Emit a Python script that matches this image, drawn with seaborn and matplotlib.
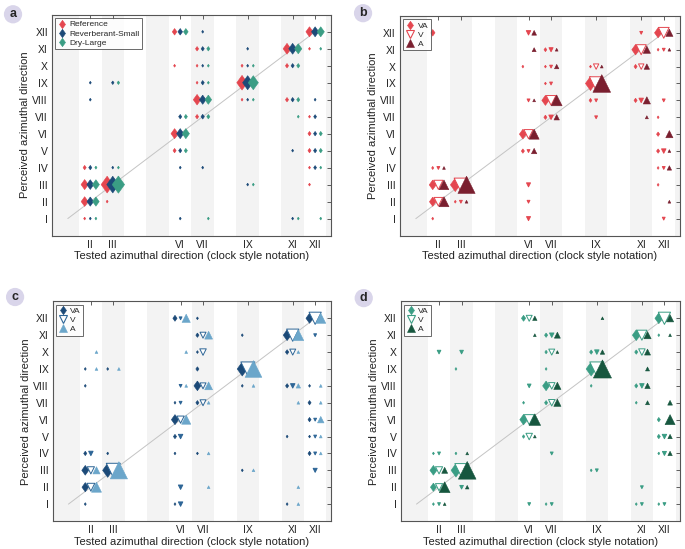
import pandas as pd
import matplotlib
matplotlib.use("Agg")
import matplotlib.pyplot as plt
from matplotlib.lines import Line2D
import seaborn as sns

sns.set_style("white")
plt.rcParams["font.family"] = ["Liberation Sans", "DejaVu Sans"]

# tick labels
roman = ["I", "II", "III", "IV", "V", "VI", "VII", "VIII", "IX", "X", "XI", "XII"]
tested = [2, 3, 6, 7, 9, 11, 12]
tested_labels = ["II", "III", "VI", "VII", "IX", "XI", "XII"]

# data: (tested direction, perceived direction, proportion of responses)
a_reference = [(2, 4, .05), (2, 3, .3), (2, 2, .28), (2, 1, .015),
               (3, 3, .85), (3, 2, .015),
               (6, 12, .12), (6, 10, .015), (6, 6, .3), (6, 5, .05),
               (7, 11, .05), (7, 10, .015), (7, 9, .015), (7, 8, .33), (7, 7, .05),
               (9, 10, .02), (9, 9, .65), (9, 8, .015),
               (11, 11, .35), (11, 10, .05), (11, 8, .05),
               (12, 12, .3), (12, 11, .015), (12, 7, .015), (12, 6, .05), (12, 5, .05),
               (12, 4, .015), (12, 3, .015)]
a_reverb_small = [(2, 9, .015), (2, 8, .015), (2, 4, .05), (2, 3, .28), (2, 2, .25), (2, 1, .015),
                  (3, 9, .03), (3, 4, .015), (3, 3, .85),
                  (6, 12, .12), (6, 7, .05), (6, 6, .3), (6, 5, .05), (6, 4, .015), (6, 1, .015),
                  (7, 12, .015), (7, 11, .05), (7, 10, .015), (7, 9, .05), (7, 8, .25), (7, 7, .06),
                  (7, 4, .015),
                  (9, 11, .015), (9, 10, .015), (9, 9, .6), (9, 8, .015), (9, 3, .015),
                  (11, 11, .35), (11, 10, .05), (11, 8, .05), (11, 5, .015), (11, 1, .015),
                  (12, 12, .3), (12, 8, .015), (12, 7, .04), (12, 6, .05), (12, 5, .05), (12, 4, .04)]
a_dry_large = [(2, 4, .02), (2, 3, .28), (2, 2, .25), (2, 1, .015),
               (3, 9, .03), (3, 4, .015), (3, 3, .9),
               (6, 12, .12), (6, 7, .05), (6, 6, .3), (6, 5, .05),
               (7, 11, .05), (7, 10, .015), (7, 9, .015), (7, 8, .25), (7, 7, .05), (7, 1, .015),
               (9, 10, .015), (9, 9, .6), (9, 8, .015), (9, 3, .015),
               (11, 11, .3), (11, 10, .05), (11, 8, .05), (11, 7, .015), (11, 1, .015),
               (12, 12, .3), (12, 11, .015), (12, 6, .05), (12, 5, .05), (12, 4, .015), (12, 1, .015)]

b_va = [(2, 12, .12), (2, 4, .02), (2, 3, .28), (2, 2, .25), (2, 1, .015),
        (3, 3, .55), (3, 2, .015),
        (6, 10, .015), (6, 6, .28), (6, 5, .05),
        (7, 11, .04), (7, 10, .015), (7, 9, .015), (7, 8, .3), (7, 7, .05),
        (9, 10, .015), (9, 9, .6), (9, 8, .04),
        (11, 11, .33), (11, 10, .05), (11, 8, .05),
        (12, 12, .3), (12, 11, .015), (12, 7, .015), (12, 6, .05), (12, 5, .05),
        (12, 4, .015), (12, 3, .015)]
b_v = [(2, 4, .015), (2, 3, .25), (2, 2, .22),
       (3, 3, .55), (3, 2, .015),
       (6, 12, .05), (6, 8, .015), (6, 6, .25), (6, 5, .015), (6, 3, .04), (6, 2, .015), (6, 1, .04),
       (7, 11, .04), (7, 10, .015), (7, 9, .015), (7, 8, .28), (7, 7, .05),
       (9, 10, .08), (9, 9, .55), (9, 8, .015), (9, 7, .015),
       (11, 12, .015), (11, 11, .3), (11, 10, .08), (11, 8, .05),
       (12, 12, .35), (12, 11, .015), (12, 8, .015), (12, 5, .05), (12, 4, .015), (12, 1, .015)]
b_a = [(2, 4, .015), (2, 3, .28), (2, 2, .3),
       (3, 3, .9), (3, 2, .015),
       (6, 12, .06), (6, 11, .04), (6, 8, .015), (6, 6, .3), (6, 5, .08),
       (7, 11, .015), (7, 10, .05), (7, 8, .35), (7, 7, .08),
       (9, 10, .015), (9, 9, .95),
       (11, 11, .15), (11, 10, .08), (11, 8, .15), (11, 7, .02),
       (12, 12, .15), (12, 11, .015), (12, 6, .15), (12, 5, .015), (12, 4, .05), (12, 2, .015)]

c_va = [(2, 9, .015), (2, 8, .015), (2, 4, .05), (2, 3, .28), (2, 2, .25), (2, 1, .015),
        (3, 9, .015), (3, 4, .015), (3, 3, .6),
        (6, 12, .1), (6, 7, .015), (6, 6, .3), (6, 5, .05), (6, 4, .015), (6, 1, .015),
        (7, 12, .015), (7, 11, .05), (7, 10, .015), (7, 9, .05), (7, 8, .28), (7, 7, .05), (7, 4, .015),
        (9, 11, .015), (9, 9, .6), (9, 8, .015), (9, 3, .015),
        (11, 11, .35), (11, 10, .06), (11, 8, .05), (11, 5, .015), (11, 1, .015),
        (12, 12, .3), (12, 8, .015), (12, 7, .05), (12, 6, .05), (12, 5, .015), (12, 4, .05)]
c_v = [(2, 4, .05), (2, 3, .15), (2, 2, .18),
       (3, 3, .6),
       (6, 12, .015), (6, 8, .015), (6, 7, .015), (6, 6, .15), (6, 5, .05), (6, 2, .05), (6, 1, .05),
       (7, 11, .1), (7, 10, .12), (7, 8, .1), (7, 7, .1),
       (9, 9, .6),
       (11, 11, .45), (11, 10, .1), (11, 8, .05),
       (12, 12, .45), (12, 11, .015), (12, 6, .015), (12, 5, .015), (12, 4, .015), (12, 3, .04)]
c_a = [(2, 10, .015), (2, 9, .015), (2, 3, .15), (2, 2, .3),
       (3, 9, .015), (3, 3, .9),
       (6, 12, .2), (6, 10, .015), (6, 8, .015), (6, 6, .25),
       (7, 11, .18), (7, 8, .18), (7, 7, .015), (7, 4, .015), (7, 2, .015),
       (9, 9, .85), (9, 8, .015), (9, 3, .015),
       (11, 11, .35), (11, 10, .015), (11, 8, .05), (11, 7, .015), (11, 2, .015), (11, 1, .015),
       (12, 12, .3), (12, 8, .015), (12, 7, .015), (12, 6, .12), (12, 5, .015), (12, 4, .015)]

d_va = [(2, 4, .015), (2, 3, .28), (2, 2, .2), (2, 1, .015),
        (3, 9, .015), (3, 4, .015), (3, 3, .55),
        (6, 12, .1), (6, 7, .015), (6, 6, .33), (6, 5, .03),
        (7, 11, .05), (7, 10, .03), (7, 9, .015), (7, 8, .28), (7, 7, .05), (7, 1, .015),
        (9, 10, .05), (9, 9, .6), (9, 8, .015), (9, 3, .015),
        (11, 11, .35), (11, 10, .05), (11, 8, .05), (11, 7, .015), (11, 1, .015),
        (12, 12, .35), (12, 11, .015), (12, 6, .05), (12, 5, .05), (12, 4, .015), (12, 1, .015)]
d_v = [(2, 10, .03), (2, 4, .015), (2, 3, .15), (2, 2, .15), (2, 1, .015),
       (3, 10, .03), (3, 3, .55), (3, 2, .03),
       (6, 12, .1), (6, 8, .03), (6, 6, .3), (6, 5, .12), (6, 1, .015),
       (7, 11, .05), (7, 10, .1), (7, 8, .12), (7, 7, .12), (7, 4, .015), (7, 1, .015),
       (9, 10, .05), (9, 9, .6), (9, 3, .015),
       (11, 11, .3), (11, 10, .12), (11, 8, .05), (11, 2, .015), (11, 1, .015),
       (12, 12, .45), (12, 5, .05), (12, 4, .04), (12, 1, .015)]
d_a = [(2, 3, .1), (2, 2, .35), (2, 1, .015),
       (3, 4, .015), (3, 3, .95), (3, 2, .03),
       (6, 12, .05), (6, 11, .015), (6, 6, .4), (6, 5, .015),
       (7, 11, .1), (7, 10, .015), (7, 8, .15), (7, 7, .15),
       (9, 12, .015), (9, 10, .05), (9, 9, 1.0),
       (11, 11, .15), (11, 10, .1), (11, 9, .04), (11, 8, .08), (11, 7, .04),
       (12, 12, .15), (12, 11, .015), (12, 7, .06), (12, 6, .3), (12, 5, .05), (12, 4, .05)]

# colours
RED, NAVY, TEAL = "#e4464f", "#1c4a78", "#3a9d84"
MAROON, SKY, FOREST = "#7a1f2f", "#6ba6ca", "#17573f"
BAND = "#f3f3f3"

DIAMOND = [(0, 1), (0.72, 0), (0, -1), (-0.72, 0), (0, 1)]
offsets = [-0.25, 0.0, 0.25]

# series: (label, data, marker, colour, open marker)
panels = {
    "a": [("Reference", a_reference, DIAMOND, RED, False),
          ("Reverberant-Small", a_reverb_small, DIAMOND, NAVY, False),
          ("Dry-Large", a_dry_large, DIAMOND, TEAL, False)],
    "b": [("VA", b_va, DIAMOND, RED, False),
          ("V", b_v, "v", RED, True),
          ("A", b_a, "^", MAROON, False)],
    "c": [("VA", c_va, DIAMOND, NAVY, False),
          ("V", c_v, "v", "#2d6596", True),
          ("A", c_a, "^", SKY, False)],
    "d": [("VA", d_va, DIAMOND, TEAL, False),
          ("V", d_v, "v", TEAL, True),
          ("A", d_a, "^", FOREST, False)],
}

fig = plt.figure(figsize=(6.85, 5.49), dpi=100)
axes_pos = {"a": [0.076, 0.571, 0.407, 0.402], "b": [0.584, 0.571, 0.408, 0.400],
            "c": [0.077, 0.051, 0.406, 0.400], "d": [0.585, 0.051, 0.408, 0.400]}
letter_pos = {"a": (0.019, 0.974), "b": (0.530, 0.976), "c": (0.022, 0.459), "d": (0.531, 0.457)}

for key, series in panels.items():
    ax = fig.add_axes(axes_pos[key])
    xlim = (0.3, 12.7)

    # alternating background columns
    for c in range(1, 14, 2):
        ax.axvspan(c - 0.5 if c > 1 else xlim[0] - 1, c + 0.5, color=BAND, lw=0, zorder=0)

    # identity line
    ax.plot([1, len(roman)], [1, len(roman)], color="#c4c4c4", lw=0.7, zorder=1)

    handles = []
    for i, (label, data, marker, col, hollow) in enumerate(series):
        df = pd.DataFrame(data, columns=["tested", "perceived", "p"])
        df["x"] = df["tested"] + offsets[i]
        if hollow:
            # very small open markers just render as dots
            faces = [col if p < 0.06 else "white" for p in df["p"]]
            kw = dict(facecolor=faces, edgecolor=col, linewidth=0.7)
        else:
            kw = dict(edgecolor=col, linewidth=0.4)
        sns.scatterplot(data=df, x="x", y="perceived", size="p", sizes=(1.5, 170),
                        size_norm=(0, 1), marker=marker, color=col, legend=False,
                        ax=ax, zorder=2 + i, **kw)
        handles.append(Line2D([], [], ls="none", marker=marker, markersize=6,
                              markerfacecolor="white" if hollow else col,
                              markeredgecolor=col, markeredgewidth=0.8 if hollow else 0.4,
                              label=label))

    ax.set_xlim(*xlim)
    ax.set_ylim(0, 13)
    ax.set_xticks(tested)
    ax.set_xticklabels(tested_labels)
    ax.set_yticks(range(1, len(roman) + 1))
    ax.set_yticklabels(roman)
    ax.tick_params(direction="in", length=3, width=0.6, top=True, right=True,
                   labelsize=7.5, colors="#444444", labelcolor="#222222", pad=3)
    for sp in ax.spines.values():
        sp.set_color("#555555")
        sp.set_linewidth(0.8)
    ax.set_xlabel("Tested azimuthal direction (clock style notation)", fontsize=8,
                  color="#222222", labelpad=1)
    ax.set_ylabel("Perceived azimuthal direction", fontsize=8, color="#222222", labelpad=1.5)

    leg = ax.legend(handles=handles, loc="upper left", fontsize=6, frameon=True,
                    fancybox=False, borderpad=0.3, labelspacing=0.15, handlelength=1.0,
                    handletextpad=0.4, borderaxespad=0.4)
    leg.get_frame().set_edgecolor("#444444")
    leg.get_frame().set_linewidth(0.7)

    fig.text(*letter_pos[key], key, fontsize=9, fontweight="bold", ha="center", va="center",
             bbox=dict(boxstyle="circle,pad=0.25", fc="#d9d5ea", ec="none"))

fig.savefig("out.png", dpi=100)
